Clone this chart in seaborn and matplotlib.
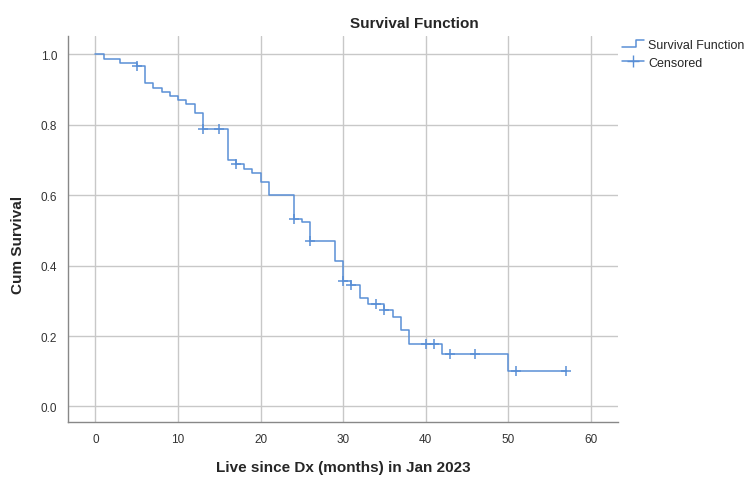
import numpy as np
import pandas as pd
import matplotlib
matplotlib.use("Agg")
import matplotlib.pyplot as plt
import seaborn as sns
from matplotlib.lines import Line2D
from matplotlib.legend_handler import HandlerBase

# data (Kaplan-Meier steps)
step_times = [0, 1, 3, 5, 6, 7, 8, 9, 10, 11, 12, 13, 16, 17, 18, 19, 20, 21,
              24, 25, 26, 29, 30, 31, 32, 33, 35, 36, 37, 38, 42, 50, 57]
step_surv = [1.000, 0.988, 0.977, 0.966, 0.918, 0.906, 0.894, 0.882, 0.870,
             0.859, 0.833, 0.788, 0.701, 0.689, 0.676, 0.664, 0.638, 0.601,
             0.534, 0.523, 0.471, 0.414, 0.357, 0.344, 0.308, 0.291, 0.275,
             0.254, 0.216, 0.178, 0.148, 0.101, 0.101]
censor_times = [5, 13, 15, 17, 24, 26, 30, 31, 34, 35, 40, 41, 43, 46, 51, 57]

curve = pd.DataFrame({"time": step_times, "surv": step_surv})
idx = np.searchsorted(step_times, censor_times, side="right") - 1
cens = pd.DataFrame({"time": censor_times, "surv": np.array(step_surv)[idx]})


class StepHandler(HandlerBase):
    # little step icon like the SPSS legend
    def create_artists(self, legend, orig_handle, xdescent, ydescent,
                       width, height, fontsize, trans):
        x0, x1 = -xdescent, -xdescent + width
        xs = [x0, x0 + 0.65 * width, x0 + 0.65 * width, x1]
        ys = [0.1 * height, 0.1 * height, 0.95 * height, 0.95 * height]
        ln = Line2D(xs, ys, color=orig_handle.get_color(),
                    linewidth=orig_handle.get_linewidth(), transform=trans)
        return [ln]


sns.set_style("white")
plt.rcParams["font.family"] = ["Liberation Sans", "DejaVu Sans"]

line_col = "#5a8fd6"
fig = plt.figure(figsize=(7.5, 4.89), dpi=100)
ax = fig.add_axes([0.091, 0.135, 0.733, 0.789])

sns.lineplot(data=curve, x="time", y="surv", drawstyle="steps-post",
             color=line_col, linewidth=1.1, ax=ax, estimator=None)
sns.scatterplot(data=cens, x="time", y="surv", marker="+", s=45,
                color=line_col, linewidth=1.1, ax=ax, zorder=3)

ax.set_xlim(-3.3, 63.3)
ax.set_ylim(-0.044, 1.052)
ax.set_xticks([0, 10, 20, 30, 40, 50, 60])
ax.set_yticks([0.0, 0.2, 0.4, 0.6, 0.8, 1.0])
ax.set_yticklabels(["0.0", "0.2", "0.4", "0.6", "0.8", "1.0"])
ax.grid(True, color="#c8c8c8", linewidth=1.0)
ax.set_axisbelow(True)
for s in ["top", "right"]:
    ax.spines[s].set_visible(False)
for s in ["left", "bottom"]:
    ax.spines[s].set_color("#888888")
    ax.spines[s].set_linewidth(1.0)
ax.tick_params(length=0, labelsize=8.5, labelcolor="#333333", pad=8)

fig.text(414 / 750, 1 - 24 / 489, "Survival Function", fontsize=11,
         fontweight="bold", ha="center", va="center")
ax.set_xlabel("Live since Dx (months) in Jan 2023", fontsize=11,
              fontweight="bold", labelpad=11)
ax.set_ylabel("Cum Survival", fontsize=11, fontweight="bold", labelpad=10)
ax.yaxis.set_label_coords(25 / 750, 0.5, transform=fig.transFigure)

h_surv = Line2D([0], [0], color=line_col, linewidth=1.1)
h_cens = Line2D([0], [0], color=line_col, linewidth=1.1, marker="+",
                markersize=8)
fig.legend([h_surv, h_cens], ["Survival Function", "Censored"],
           loc="upper left", bbox_to_anchor=(0.829, 0.918), frameon=False,
           fontsize=9, handlelength=1.8, handletextpad=0.3,
           labelspacing=0.45, borderaxespad=0, borderpad=0,
           handler_map={h_surv: StepHandler()})

fig.savefig("out.png", dpi=100)
